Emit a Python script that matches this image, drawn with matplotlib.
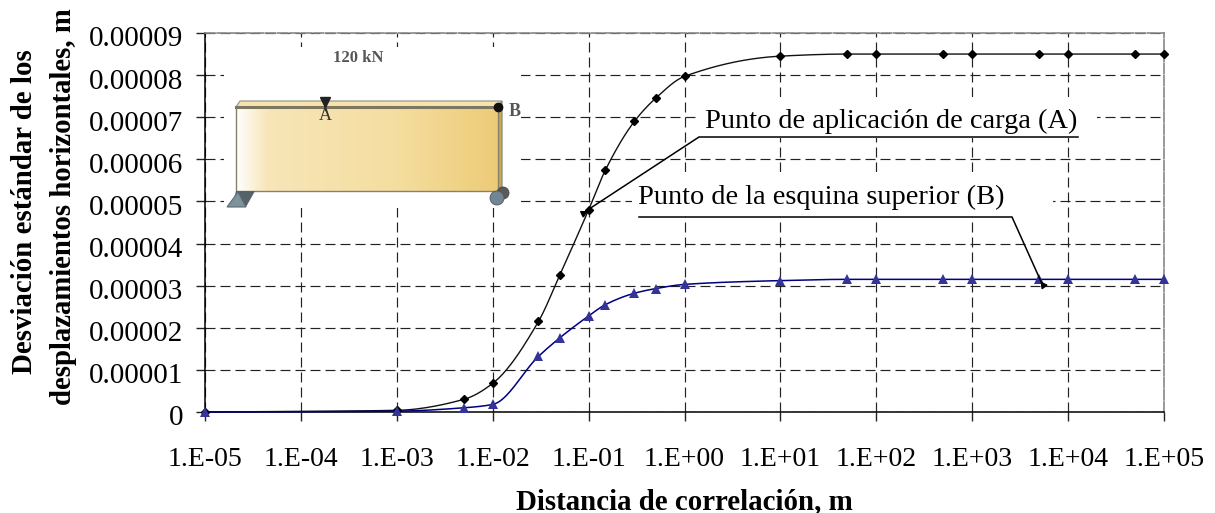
import numpy as np
import matplotlib
matplotlib.use("Agg")
import matplotlib.pyplot as plt
from matplotlib.patches import Polygon, Circle, Rectangle
from matplotlib.transforms import ScaledTranslation

plt.rcParams['font.family'] = ['Liberation Serif', 'DejaVu Serif']
plt.rcParams['lines.scale_dashes'] = False

distances = [1e-5, 1e-3, 5e-3, 1e-2, 3e-2, 5e-2, 1e-1, 1.5e-1, 3e-1, 5e-1, 1,
             10, 50, 100, 500, 1000, 5000, 1e4, 5e4, 1e5]
point_a = [0, 4e-7, 3.0e-6, 6.8e-6, 2.15e-5, 3.25e-5, 4.8e-5, 5.75e-5, 6.9e-5, 7.45e-5, 7.97e-5,
           8.45e-5, 8.5e-5, 8.5e-5, 8.5e-5, 8.5e-5, 8.5e-5, 8.5e-5, 8.5e-5, 8.5e-5]
point_b = [0, 2e-7, 1.0e-6, 1.8e-6, 1.32e-5, 1.76e-5, 2.28e-5, 2.55e-5, 2.82e-5, 2.93e-5, 3.03e-5,
           3.12e-5, 3.15e-5, 3.15e-5, 3.15e-5, 3.15e-5, 3.15e-5, 3.15e-5, 3.15e-5, 3.15e-5]
x_ticks = [1e-5, 1e-4, 1e-3, 1e-2, 1e-1, 1, 10, 100, 1000, 1e4, 1e5]
x_tick_labels = ['1.E-05', '1.E-04', '1.E-03', '1.E-02', '1.E-01', '1.E+00',
                 '1.E+01', '1.E+02', '1.E+03', '1.E+04', '1.E+05']
y_ticks = [0, 1e-5, 2e-5, 3e-5, 4e-5, 5e-5, 6e-5, 7e-5, 8e-5, 9e-5]
y_tick_labels = ['0', '0.00001', '0.00002', '0.00003', '0.00004', '0.00005',
                 '0.00006', '0.00007', '0.00008', '0.00009']

W, H = 1215, 513


def smooth(xs, ys, n=24):
    """Monotone cubic through the points, in log-x space, for the smoothed line."""
    lx = np.log10(xs)
    ly = np.asarray(ys, float)
    h = np.diff(lx)
    d = np.diff(ly) / h
    m = np.zeros_like(ly)
    for i in range(1, len(ly) - 1):
        if d[i - 1] * d[i] > 0:
            w1 = 2 * h[i] + h[i - 1]
            w2 = h[i] + 2 * h[i - 1]
            m[i] = (w1 + w2) / (w1 / d[i - 1] + w2 / d[i])
    m[0], m[-1] = d[0], d[-1]
    sx, sy = [], []
    for i in range(len(h)):
        t = np.linspace(0, 1, n)
        a = (2 * t ** 3 - 3 * t ** 2 + 1) * ly[i] + (t ** 3 - 2 * t ** 2 + t) * h[i] * m[i]
        b = (-2 * t ** 3 + 3 * t ** 2) * ly[i + 1] + (t ** 3 - t ** 2) * h[i] * m[i + 1]
        sx.append(lx[i] + t * h[i])
        sy.append(a + b)
    return 10 ** np.concatenate(sx), np.concatenate(sy)


fig = plt.figure(figsize=(W / 100, H / 100), dpi=100, facecolor='white')
ax = fig.add_axes([205 / W, 1 - 412 / H, (1164 - 205) / W, (412 - 33) / H])
ax.set_xscale('log')
ax.set_xlim(1e-5, 1e5)
ax.set_ylim(0, 9e-5)
ax.set_xticks(x_ticks)
ax.set_xticklabels(x_tick_labels, fontsize=20)
ax.minorticks_off()
ax.set_yticks(y_ticks)
ax.set_yticklabels(y_tick_labels, fontsize=21)
ax.tick_params(axis='both', length=6.5, width=1, color='#222222')
ax.tick_params(axis='y', pad=9)
ax.tick_params(axis='x', pad=19)
shift = ScaledTranslation(0, -2.5 / 72, fig.dpi_scale_trans)
for lab in ax.get_yticklabels():
    lab.set_transform(lab.get_transform() + shift)
ax.grid(True, color='#222222', lw=0.85, linestyle=(0, (7.2, 3.6)), zorder=1)
ax.set_axisbelow(True)
for side in ['top', 'right']:
    ax.spines[side].set_linestyle((0, (7.2, 1.5)))
    ax.spines[side].set_color('#888888')
    ax.spines[side].set_linewidth(1.2)
for side in ['left', 'bottom']:
    ax.spines[side].set_linewidth(1.1)

sx, sy = smooth(distances, point_a)
ax.plot(sx, sy, color='#111111', lw=1.0, zorder=3, clip_on=False)
ax.plot(distances, point_a, ls='none', marker='D', ms=4.4, color='black', zorder=4, clip_on=False)
sx, sy = smooth(distances, point_b)
ax.plot(sx, sy, color='#000080', lw=1.1, zorder=3, clip_on=False)
ax.plot(distances, point_b, ls='none', marker='^', ms=6.8, color='#333399', mew=0, zorder=4, clip_on=False)

# Overlay in pixel coordinates: white boxes, inset picture, callouts
ov = fig.add_axes([0, 0, 1, 1], zorder=5)
ov.set_xlim(0, W)
ov.set_ylim(H, 0)
ov.axis('off')
ov.patch.set_alpha(0)

for x0, y0, x1, y1 in [(224, 47, 521, 208), (700, 97, 1097, 138), (632, 172, 1053, 217)]:
    ov.add_patch(Rectangle((x0, y0), x1 - x0, y1 - y0, fc='white', ec='none', zorder=1))

# Beam inset
ov.add_patch(Polygon([(236, 107), (240, 101), (502, 101), (498, 107)], fc='#f7e3ae', ec='#9a9a90', lw=0.9, zorder=2))
ov.add_patch(Polygon([(498, 107), (502, 101), (502, 188), (498, 191)], fc='#c9a84f', ec='#8a8a80', lw=0.9, zorder=2))
colors = np.array([[1, 1, 1], [0.97, 0.90, 0.72], [0.96, 0.87, 0.63], [0.93, 0.80, 0.47]])
pos = np.array([0, 0.12, 0.6, 1.0])
g = np.linspace(0, 1, 256)
grad = np.stack([np.interp(g, pos, colors[:, k]) for k in range(3)], axis=-1)[None, :, :]
ov.imshow(grad, extent=(236, 498, 191, 107), aspect='auto', zorder=2)
ov.set_xlim(0, W)
ov.set_ylim(H, 0)
ov.plot([236, 236, 498, 498], [107, 191, 191, 107], color='#85816f', lw=1.0, zorder=3)
ov.plot([236, 498], [107, 107], color='#7d7660', lw=2.2, zorder=3)
ov.add_patch(Polygon([(236, 191), (255, 191), (246, 207), (232, 207)], fc='#56626a', ec='none', zorder=3))
ov.add_patch(Polygon([(227, 207), (238, 192), (246, 207)], fc='#7e929c', ec='#5f6b73', lw=0.8, zorder=3))
ov.add_patch(Circle((503, 193), 6, fc='#5a5a58', ec='#444444', lw=0.6, zorder=3))
ov.add_patch(Circle((497, 198), 7, fc='#6f8795', ec='#555555', lw=0.6, zorder=3))
ov.plot([498], [107], marker='o', ms=6, color='#111111', zorder=4)
ov.plot([325], [101.5], marker='v', ms=7, color='#222222', zorder=4)
ov.plot([325, 325], [101, 110], color='#222222', lw=1, zorder=4)
ov.text(358, 58, '120 kN', fontsize=12, fontweight='bold', color='#555555', ha='center', va='center', zorder=4)
ov.text(325, 116, 'A', fontsize=13, color='#333333', ha='center', va='center', zorder=4)
ov.text(515, 112, 'B', fontsize=13, fontweight='bold', color='#555555', ha='center', va='center', zorder=4)

# Callouts
ov.text(705, 128, 'Punto de aplicación de carga (A)', fontsize=20.4, color='black', ha='left', va='baseline', zorder=6)
ov.text(638, 204, 'Punto de la esquina superior (B)', fontsize=20.4, color='black', ha='left', va='baseline', zorder=6)
ov.plot([1078, 699, 583], [137, 137, 213], color='black', lw=1.1, zorder=6)
ov.plot([639, 1012, 1043], [217, 217, 286], color='black', lw=1.1, zorder=6)
ov.plot([583], [213], marker=(3, 0, 56), ms=5, color='black', zorder=6)
ov.plot([1043], [285], marker=(3, 0, 156), ms=5, color='black', zorder=6)

# Axis titles
ov.text(684.5, 501.5, 'Distancia de correlación, m', fontsize=20.8, fontweight='bold', ha='center', va='center')
ov.text(25, 211.5, 'Desviación estándar de los', fontsize=20.8, fontweight='bold', rotation=90, ha='center', va='center')
ov.text(64, 206.5, 'desplazamientos horizontales, m', fontsize=20.7, fontweight='bold', rotation=90, ha='center', va='center')

fig.savefig('out.png', dpi=100, facecolor='white')
